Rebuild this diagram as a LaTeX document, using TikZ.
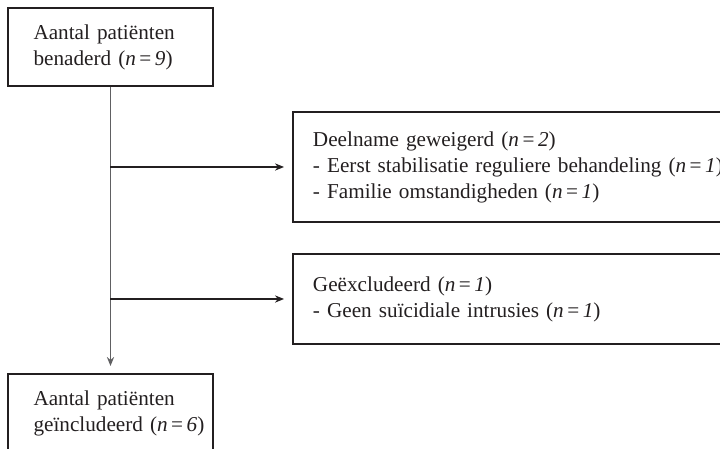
\documentclass[tikz,border=0pt]{standalone}
\usepackage{fontspec}
\setmainfont{Liberation Serif}
\usetikzlibrary{arrows.meta}
\definecolor{ink}{HTML}{231F20}
\definecolor{vline}{HTML}{606062}
\newcommand{\nn}[1]{(\textit{n}\,=\,\textit{#1})}
\tikzset{
  box/.style={draw=ink, line width=1pt, text=ink, align=left, anchor=north west,
    font=\fontsize{10.6}{13}\selectfont, inner ysep=0pt},
  conn/.style={draw=ink, line width=0.55pt, -{Stealth[length=4.5pt,width=3.6pt]}},
}
\begin{document}
\begin{tikzpicture}[x=0.5pt,y=-0.5pt]
\useasboundingbox (0,0) rectangle (720,449);
\clip (0,0) rectangle (720,449);
\node[box, minimum width=102.5pt, minimum height=39pt, text width=77pt, inner xsep=12.5pt] (b1) at (7,7)
  {Aantal~patiënten\\benaderd~\nn{9}};
\node[box, minimum width=230pt, minimum height=55pt, text width=215pt, inner xsep=10pt] (b2) at (292,111)
  {Deelname geweigerd \nn{2}\\- Eerst stabilisatie reguliere behandeling~\nn{1}\\- Familie omstandigheden \nn{1}};
\node[box, minimum width=230pt, minimum height=45pt, text width=215pt, inner xsep=10pt] (b4) at (292,253)
  {Geëxcludeerd \nn{1}\\- Geen suïcidiale intrusies \nn{1}};
\node[box, minimum width=102.5pt, minimum height=39pt, text width=77pt, inner xsep=12.5pt] (b3) at (7,373)
  {Aantal~patiënten\\geïncludeerd~\nn{6}};
\draw[conn, draw=vline, line width=0.8pt, shorten >=3.5pt] (b1.south) -- (b3.north);
\draw[conn, shorten >=4pt] (b1.south |- b2.west) -- (b2.west);
\draw[conn, shorten >=4pt] (b1.south |- b4.west) -- (b4.west);
\end{tikzpicture}
\end{document}
